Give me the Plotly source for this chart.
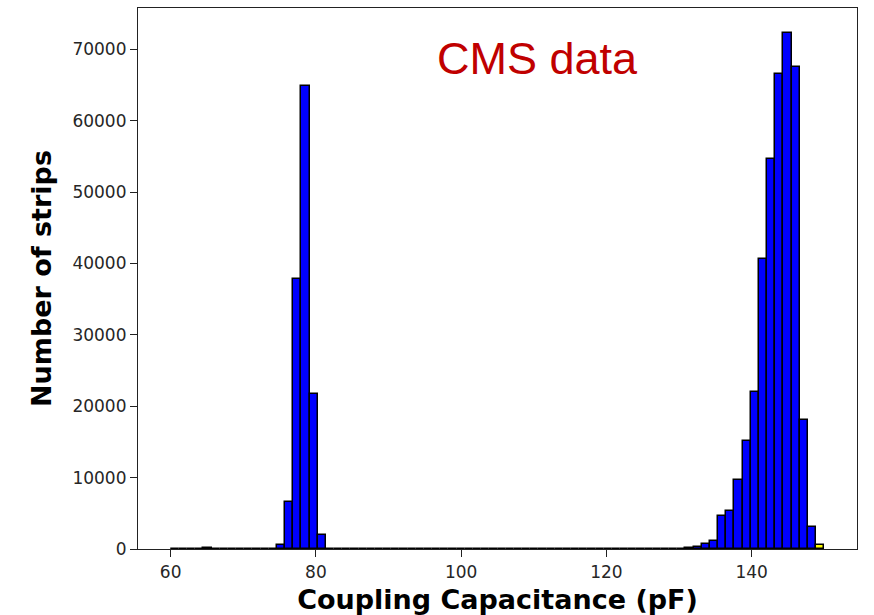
import plotly.graph_objects as go

# Histogram data: 80 bins from 60 to 150 (bin width 1.125)
bin_start = 60.0
bin_width = 1.125
counts = [
    60, 0, 0, 0, 80, 0, 0, 0, 0, 0,            # k 0-9
    0, 0, 0, 560, 6600, 37800, 64850, 21700, 1950, 0,   # k 10-19
    0, 0, 0, 0, 0, 70, 0, 0, 0, 0,             # k 20-29
    0, 0, 0, 0, 0, 0, 0, 0, 70, 0,             # k 30-39
    0, 0, 0, 0, 0, 0, 0, 0, 0, 0,              # k 40-49
    0, 0, 0, 0, 0, 0, 0, 0, 0, 0,              # k 50-59
    0, 0, 0, 150, 300, 720, 1150, 4680, 5300, 9650,   # k 60-69
    15150, 21950, 40700, 54650, 66600, 72240, 67600, 18100, 3140, 630,  # k 70-79
]
bar_colors = ["#0000ff"] * (len(counts) - 1) + ["#ffff00"]

x_ticks = [60, 80, 100, 120, 140]
y_ticks = [0, 10000, 20000, 30000, 40000, 50000, 60000, 70000]

centers = [bin_start + bin_width * (k + 0.5) for k in range(len(counts))]

fig = go.Figure()
fig.add_trace(go.Bar(
    x=centers, y=counts, width=[bin_width] * len(counts),
    marker=dict(color=bar_colors, line=dict(color="black", width=1.5)),
    showlegend=False,
))

tick_font = dict(family="DejaVu Sans", size=17, color="#262626")
fig.update_xaxes(
    range=[55.5, 154.5], tickvals=x_ticks, ticktext=[str(v) for v in x_ticks],
    showgrid=False, zeroline=False, showline=True, mirror=True,
    linecolor="#222222", linewidth=1.2, ticks="outside", ticklen=7,
    tickcolor="#222222", tickfont=tick_font, automargin=False,
    title=dict(text="Coupling Capacitance (pF)",
               font=dict(family="DejaVu Sans", size=27, color="black", weight="bold"),
               standoff=12),
)
fig.update_yaxes(
    range=[0, 75800], tickvals=y_ticks, ticktext=[str(v) for v in y_ticks],
    showgrid=False, zeroline=False, showline=True, mirror=True,
    linecolor="#222222", linewidth=1.2, ticks="outside", ticklen=7,
    tickcolor="#222222", tickfont=tick_font, automargin=False,
    title=dict(text="Number of strips",
               font=dict(family="DejaVu Sans", size=27, color="black", weight="bold"),
               standoff=12),
)
fig.add_annotation(
    text="CMS data", xref="paper", yref="paper", x=0.555, y=0.906,
    showarrow=False, font=dict(family="Liberation Sans", size=45, color="#c00000"),
    xanchor="center", yanchor="middle",
)
fig.update_layout(
    width=874, height=615, margin=dict(l=138, r=17, t=8, b=66),
    plot_bgcolor="white", paper_bgcolor="white", bargap=0,
)
fig.write_html("out.html")
